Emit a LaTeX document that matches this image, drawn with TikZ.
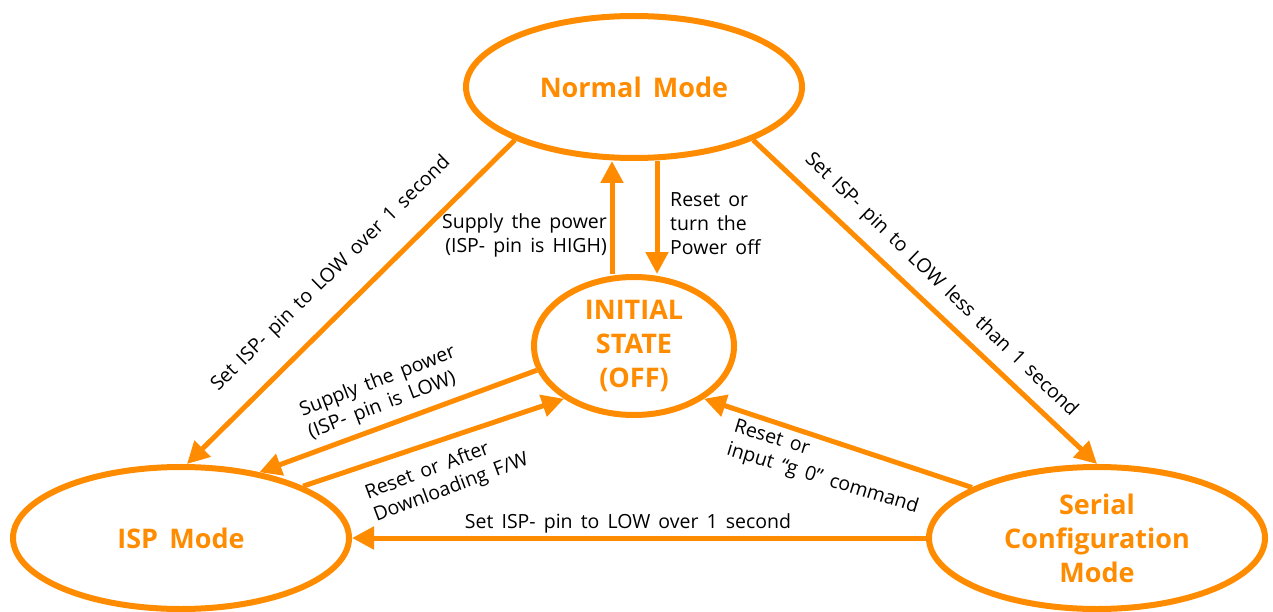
\documentclass[tikz,border=0pt]{standalone}
\usepackage{fontspec}
\setmainfont{Open Sans}[WordSpace=1.6]
\usetikzlibrary{shapes.geometric,arrows.meta}
\definecolor{orc}{RGB}{255,140,0}
\begin{document}
\begin{tikzpicture}[x=1pt,y=-1pt,
  state/.style={ellipse, draw=orc, line width=6pt, text=orc, font=\bfseries\fontsize{27}{34}\selectfont, align=center, inner sep=0pt},
  arr/.style={draw=orc, line width=5pt, -{Triangle[length=22pt,width=22pt]}},
  lbl/.style={font=\fontsize{19.5}{24}\selectfont, inner sep=0pt, text=black}]
\useasboundingbox (0,0) rectangle (1273,612);
% states
\node[state, minimum width=336pt, minimum height=142pt] (nm) at (634,87) {Normal Mode};
\node[state, minimum width=200pt, minimum height=138pt] (init) at (634,346) {INITIAL\\STATE\\(OFF)};
\node[state, minimum width=336pt, minimum height=142pt] (isp) at (181,538) {ISP Mode};
\node[state, minimum width=336pt, minimum height=142pt] (ser) at (1097,538) {Serial\\Configuration\\Mode};
% connectors
\draw[arr] (nm.204) -- ([xshift=6pt]isp.north);
\draw[arr] (nm.336) -- (ser.north);
\draw[arr] ([xshift=-22pt]init.north) -- ([xshift=-22pt]nm.south);
\draw[arr] ([xshift=23pt]nm.south) -- ([xshift=23pt]init.north);
\draw[arr] (init.194) -- (isp.40);
\draw[arr] (isp.23) -- (init.217);
\draw[arr] (ser.158) -- (init.-37);
\draw[arr] (ser.west) -- (isp.east);
% labels
\node[lbl, rotate=44.5] (l1) at (331,274) {Set ISP- pin to LOW over 1 second};
\node[lbl, rotate=-44] (l2) at (941,285) {Set ISP- pin to LOW less than 1 second};
\node[lbl, align=right, anchor=east] (l3) at (607,235) {Supply the power\\(ISP- pin is HIGH)};
\node[lbl, align=left, anchor=west] (l4) at (670,224) {Reset or\\turn the\\Power off};
\node[lbl, align=left, rotate=21] (l5) at (382,393) {Supply the power\\(ISP- pin is LOW)};
\node[lbl, align=left, rotate=20.5] (l6) at (447,477) {Reset or After\\Downloading F/W};
\node[lbl, align=left, rotate=-17] (l7) at (826,468) {Reset or\\input “g 0” command};
\node[lbl] (l8) at (628,523) {Set ISP- pin to LOW over 1 second};
\end{tikzpicture}
\end{document}
